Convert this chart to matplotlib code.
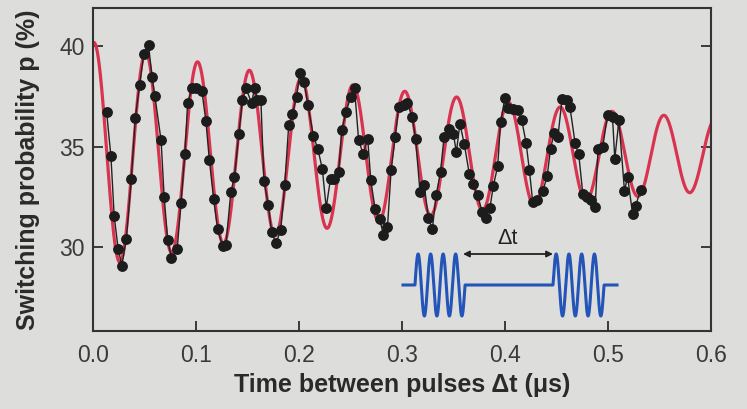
import numpy as np
import matplotlib
matplotlib.use("Agg")
import matplotlib.pyplot as plt

# ---- data ----
t_data = [0.0132, 0.0174, 0.0206, 0.0244, 0.0280, 0.0324, 0.0372, 0.0411, 0.0452, 0.0493,
          0.0539, 0.0573, 0.0601, 0.0661, 0.0691, 0.0725, 0.0761, 0.0817, 0.0854, 0.0892,
          0.0919, 0.0959, 0.0997, 0.1057, 0.1096, 0.1130, 0.1171, 0.1209, 0.1259, 0.1290,
          0.1338, 0.1373, 0.1417, 0.1450, 0.1486, 0.1539, 0.1569, 0.1597, 0.1630, 0.1660,
          0.1703, 0.1734, 0.1777, 0.1823, 0.1861, 0.1900, 0.1935, 0.1977, 0.2007, 0.2051,
          0.2086, 0.2140, 0.2182, 0.2226, 0.2264, 0.2306, 0.2341, 0.2385, 0.2415, 0.2457,
          0.2502, 0.2539, 0.2579, 0.2623, 0.2667, 0.2697, 0.2739, 0.2782, 0.2820, 0.2859,
          0.2894, 0.2934, 0.2967, 0.3016, 0.3051, 0.3098, 0.3132, 0.3175, 0.3216, 0.3256,
          0.3295, 0.3331, 0.3374, 0.3408, 0.3453, 0.3498, 0.3528, 0.3562, 0.3604, 0.3653,
          0.3686, 0.3736, 0.3778, 0.3811, 0.3853, 0.3886, 0.3929, 0.3957, 0.4000, 0.4027,
          0.4076, 0.4124, 0.4163, 0.4205, 0.4237, 0.4269, 0.4311, 0.4367, 0.4409, 0.4442,
          0.4478, 0.4514, 0.4554, 0.4599, 0.4631, 0.4681, 0.4716, 0.4755, 0.4797, 0.4835,
          0.4875, 0.4904, 0.4948, 0.4996, 0.5044, 0.5066, 0.5106, 0.5160, 0.5190, 0.5239,
          0.5267, 0.5318]
p_data = [36.73, 34.53, 31.54, 29.94, 29.10, 30.43, 33.42, 36.45, 38.06, 39.60,
          40.07, 38.47, 37.51, 35.32, 32.50, 30.38, 29.49, 29.90, 32.20, 34.66,
          37.18, 37.90, 37.90, 37.78, 36.28, 34.33, 32.42, 30.93, 30.05, 30.10,
          32.75, 33.50, 35.66, 37.31, 37.90, 37.18, 37.90, 37.31, 37.31, 33.30,
          32.09, 30.76, 30.21, 30.88, 33.08, 36.07, 36.62, 37.48, 38.67, 38.22,
          37.06, 35.55, 34.91, 33.92, 31.98, 33.42, 33.42, 33.75, 35.84, 36.75,
          37.48, 37.90, 35.32, 34.66, 35.41, 33.33, 31.92, 31.43, 30.62, 31.00,
          33.83, 35.49, 36.96, 37.08, 37.16, 36.50, 35.41, 32.75, 33.10, 31.45,
          30.93, 32.59, 33.75, 35.48, 35.91, 35.66, 34.74, 36.15, 35.16, 33.67,
          33.17, 32.59, 31.76, 31.47, 31.95, 33.04, 34.05, 36.23, 37.45, 36.95,
          36.90, 36.82, 36.32, 35.19, 33.83, 32.25, 32.37, 32.80, 33.53, 34.91,
          35.70, 35.50, 37.40, 37.31, 36.96, 35.17, 34.63, 32.68, 32.52, 32.34,
          31.99, 34.91, 34.97, 36.60, 36.46, 34.41, 36.32, 32.82, 33.51, 31.66,
          32.06, 32.87]

# fitted damped-oscillation parameters
fit_offset = 34.6     # %
fit_amp0 = 5.6        # %
fit_tau = 0.53        # us
fit_period = 0.0503   # us
fit_t0 = 0.001        # us (time of first maximum)

x_ticks = [0.0, 0.1, 0.2, 0.3, 0.4, 0.5, 0.6]
x_ticklabels = ["0.0", "0.1", "0.2", "0.3", "0.4", "0.5", "0.6"]
y_ticks = [30, 35, 40]
y_ticklabels = ["30", "35", "40"]

# ---- figure ----
W, H = 747, 409
bg = "#dddddb"
plt.rcParams['font.family'] = ['Liberation Sans', 'DejaVu Sans']
fig = plt.figure(figsize=(W / 100, H / 100), dpi=100, facecolor=bg)

L, R, T, B = 93, 711, 8, 331
ax = fig.add_axes([L / W, 1 - B / H, (R - L) / W, (B - T) / H], facecolor=bg)

t_fit = np.linspace(0, 0.6, 1200)
p_fit = fit_offset + fit_amp0 * np.exp(-t_fit / fit_tau) * np.cos(
    2 * np.pi * (t_fit - fit_t0) / fit_period)
ax.plot(t_fit, p_fit, color="#d9344f", lw=2.3, zorder=2)
ax.plot(t_data, p_data, color="#222222", lw=1.0, zorder=3)
ax.plot(t_data, p_data, "o", color="#1c1c1c", ms=6.8, mec="#1c1c1c", zorder=4)

ax.set_xlim(0, 0.6)
ax.set_ylim(25.85, 41.9)
ax.set_xticks(x_ticks)
ax.set_xticklabels(x_ticklabels)
ax.set_yticks(y_ticks)
ax.set_yticklabels(y_ticklabels)
ax.tick_params(axis="x", direction="in", length=7, width=1.4, pad=9,
               labelsize=16.5, colors="#3a3a3a", top=False)
ax.tick_params(axis="y", direction="in", length=7, width=1.4, pad=6,
               labelsize=16.5, colors="#3a3a3a", right=True)
for s in ax.spines.values():
    s.set_linewidth(1.5)
    s.set_color("#333333")

ax.set_xlabel("Time between pulses Δt (μs)", fontsize=18, fontweight="bold",
              color="#2a2a2a", labelpad=5)
ax.set_ylabel("Switching probability p (%)", fontsize=18, fontweight="bold",
              color="#2a2a2a", labelpad=14)

# ---- inset schematic of the two pulses ----
ia = fig.add_axes([400 / W, 1 - 322 / H, 222 / W, 92 / H])
ia.set_xlim(400, 622)
ia.set_ylim(322, 230)
ia.axis("off")
blue = "#2354b8"
base, amp = 285, 31
burst1 = (415, 465)
burst2 = (553, 604)
xs = np.linspace(403, 617, 3000)
ys = np.full_like(xs, base, dtype=float)
for a, b in (burst1, burst2):
    m = (xs >= a) & (xs <= b)
    ys[m] = base - amp * np.sin(2 * np.pi * 4 * (xs[m] - a) / (b - a))
ia.plot(xs, ys, color=blue, lw=2.2)
ia.annotate("", xy=(463, 254), xytext=(553, 254),
            arrowprops=dict(arrowstyle="<|-|>", color="#222222", lw=1.3,
                            mutation_scale=9, shrinkA=0, shrinkB=0))
ia.text(508, 239, "Δt", ha="center", va="center", fontsize=15.5, color="#222222")

fig.savefig("out.png", dpi=100, facecolor=bg)
